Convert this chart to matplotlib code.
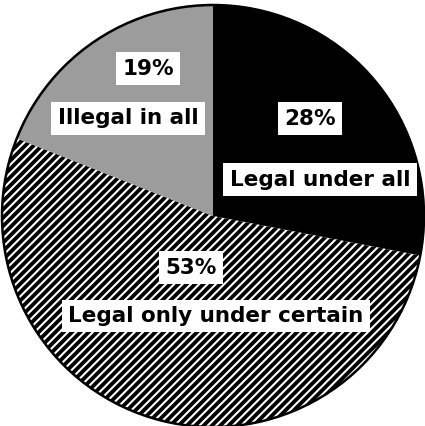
import matplotlib
matplotlib.use("Agg")
import matplotlib.pyplot as plt

categories = ["Legal under all", "Legal only under certain", "Illegal in all"]
values = [28, 53, 19]
pct_labels = ["28%", "53%", "19%"]

plt.rcParams['hatch.linewidth'] = 1.5

fig = plt.figure(figsize=(4.25, 4.26), dpi=100)
ax = fig.add_axes([0, 0, 1, 1])
ax.axis('off')

wedges, _ = ax.pie(values, startangle=90, counterclock=False, radius=1.0,
                   colors=['black', 'black', '#9c9c9c'],
                   wedgeprops=dict(linewidth=0))
wedges[1].set_hatch('////')
wedges[1].set_edgecolor('white')
wedges[1].set_linewidth(0)

# outline
outline = plt.Circle((0, 0), 1.0, fill=False, edgecolor='black', linewidth=1.8)
ax.add_patch(outline)

ax.set_xlim(-213/211, (425-213)/211)
ax.set_ylim(-(426-216)/211, 216/211)
ax.set_aspect('auto')

font = dict(family='DejaVu Sans', weight='bold', size=15.5, color='black')
box = dict(boxstyle='square,pad=0.3', facecolor='white', edgecolor='none')

label_pos = [(0.507, 0.171), (0.014, -0.474), (-0.403, 0.464)]
pct_pos = [(0.46, 0.46), (-0.104, -0.246), (-0.308, 0.697)]
for cat, pct, lp, pp in zip(categories, pct_labels, label_pos, pct_pos):
    ax.text(lp[0], lp[1], cat, ha='center', va='center', bbox=box, **font)
    ax.text(pp[0], pp[1], pct, ha='center', va='center', bbox=box, **font)

fig.savefig("out.png", dpi=100)
